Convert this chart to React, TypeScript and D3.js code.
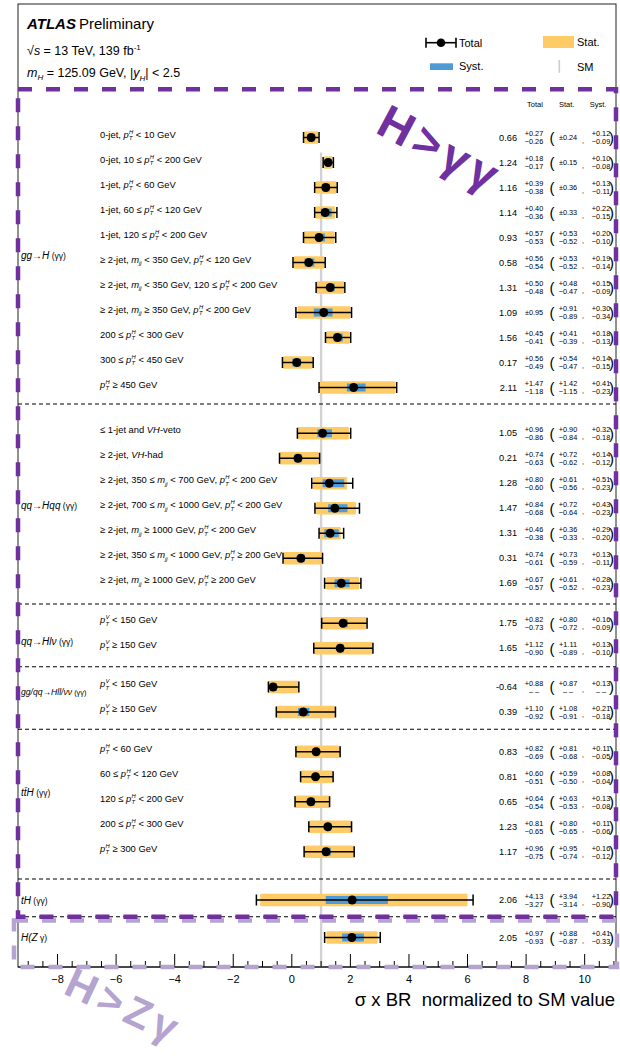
import React from 'react';
import * as d3 from 'd3';

// ---------------- data ----------------
const GROUP_MAIN = ['gg→H', 'qq→Hqq', 'qq→Hlν', 'gg/qq→Hll/νν', 'tt̄H', 'tH', 'H(Z'];
const GROUP_SUFFIX = [' (γγ)', ' (γγ)', ' (γγ)', ' (γγ)', ' (γγ)', ' (γγ)', ' γ)'];

const ROW_GROUP = [
  0, 0, 0, 0, 0, 0, 0, 0, 0, 0, 0,
  1, 1, 1, 1, 1, 1, 1,
  2, 2,
  3, 3,
  4, 4, 4, 4, 4,
  5,
  6,
];

const ROW_LABELS = [
  '0-jet, pTH < 10 GeV',
  '0-jet, 10 ≤ pTH < 200 GeV',
  '1-jet, pTH < 60 GeV',
  '1-jet, 60 ≤ pTH < 120 GeV',
  '1-jet, 120 ≤ pTH < 200 GeV',
  '≥ 2-jet, mjj < 350 GeV, pTH < 120 GeV',
  '≥ 2-jet, mjj < 350 GeV, 120 ≤ pTH < 200 GeV',
  '≥ 2-jet, mjj ≥ 350 GeV, pTH < 200 GeV',
  '200 ≤ pTH < 300 GeV',
  '300 ≤ pTH < 450 GeV',
  'pTH ≥ 450 GeV',
  '≤ 1-jet and VH-veto',
  '≥ 2-jet, VH-had',
  '≥ 2-jet, 350 ≤ mjj < 700 GeV, pTH < 200 GeV',
  '≥ 2-jet, 700 ≤ mjj < 1000 GeV, pTH < 200 GeV',
  '≥ 2-jet, mjj ≥ 1000 GeV, pTH < 200 GeV',
  '≥ 2-jet, 350 ≤ mjj < 1000 GeV, pTH ≥ 200 GeV',
  '≥ 2-jet, mjj ≥ 1000 GeV, pTH ≥ 200 GeV',
  'pTV < 150 GeV',
  'pTV ≥ 150 GeV',
  'pTV < 150 GeV',
  'pTV ≥ 150 GeV',
  'pTH < 60 GeV',
  '60 ≤ pTH < 120 GeV',
  '120 ≤ pTH < 200 GeV',
  '200 ≤ pTH < 300 GeV',
  'pTH ≥ 300 GeV',
  '',
  '',
];

const MU = [0.66, 1.24, 1.16, 1.14, 0.93, 0.58, 1.31, 1.09, 1.56, 0.17, 2.11,
  1.05, 0.21, 1.28, 1.47, 1.31, 0.31, 1.69,
  1.75, 1.65,
  -0.64, 0.39,
  0.83, 0.81, 0.65, 1.23, 1.17,
  2.06,
  2.05];

const TOT_UP = [0.27, 0.18, 0.39, 0.40, 0.57, 0.56, 0.50, 0.95, 0.45, 0.56, 1.47,
  0.96, 0.74, 0.80, 0.84, 0.46, 0.74, 0.67,
  0.82, 1.12,
  0.88, 1.10,
  0.82, 0.60, 0.64, 0.81, 0.96,
  4.13,
  0.97];
const TOT_DN = [0.26, 0.17, 0.38, 0.36, 0.53, 0.54, 0.48, 0.95, 0.41, 0.49, 1.18,
  0.86, 0.63, 0.60, 0.68, 0.38, 0.61, 0.57,
  0.73, 0.90,
  null, 0.92,
  0.69, 0.51, 0.54, 0.65, 0.75,
  3.27,
  0.93];
const STAT_UP = [0.24, 0.15, 0.36, 0.33, 0.53, 0.53, 0.48, 0.91, 0.41, 0.54, 1.42,
  0.90, 0.72, 0.61, 0.72, 0.36, 0.73, 0.61,
  0.80, 1.11,
  0.87, 1.08,
  0.81, 0.59, 0.63, 0.80, 0.95,
  3.94,
  0.88];
const STAT_DN = [0.24, 0.15, 0.36, 0.33, 0.52, 0.52, 0.47, 0.89, 0.39, 0.47, 1.15,
  0.84, 0.62, 0.56, 0.64, 0.33, 0.59, 0.52,
  0.72, 0.89,
  null, 0.91,
  0.68, 0.50, 0.53, 0.65, 0.74,
  3.14,
  0.87];
const SYST_UP = [0.12, 0.10, 0.13, 0.22, 0.20, 0.19, 0.15, 0.30, 0.18, 0.14, 0.41,
  0.32, 0.14, 0.51, 0.43, 0.29, 0.13, 0.28,
  0.16, 0.13,
  0.13, 0.21,
  0.11, 0.08, 0.13, 0.11, 0.16,
  1.22,
  0.41];
const SYST_DN = [0.09, 0.08, 0.11, 0.15, 0.10, 0.14, 0.09, 0.34, 0.13, 0.15, 0.23,
  0.18, 0.12, 0.23, 0.23, 0.20, 0.11, 0.23,
  0.09, 0.10,
  null, 0.18,
  0.05, 0.04, 0.08, 0.06, 0.12,
  0.90,
  0.33];
const UNDEFINED_LOW_DRAWN = 0.16;

const X_MAJOR = [-8, -6, -4, -2, 0, 2, 4, 6, 8, 10];

// ---------------- layout (row units) ----------------
const GROUP_START = [0, 11.83, 19.43, 21.98, 24.57, 30.5, 32.0];
const GROUP_LABEL_POS = [4.7, 14.7, 20.17, 22.17, 26.2, 30.5, 32.0];
const SEPARATORS = [10.66, 18.66, 21.17, 23.67, 29.66, 31.17];

const FONT = "'Liberation Sans', Arial, Helvetica, sans-serif";
const YELLOW = '#ffcb66';
const BLUE = '#4e9bd6';
const PURPLE = '#7030a0';
const LAVENDER = '#b4a4cf';

function labelSpans(s: string, fs: number) {
  const parts = s.split(/(pTH|pTV|mjj|VH)/).filter((p) => p !== '');
  const out: any[] = [];
  let off = 0;
  let pendDx = 0;
  const small = fs * 0.62;
  parts.forEach((p, i) => {
    if (p === 'pTH' || p === 'pTV') {
      const sup = p[2];
      out.push(<tspan key={i + 'a'} fontStyle="italic" dy={-off} dx={pendDx}>p</tspan>);
      off = 0; pendDx = 0;
      const upd = -fs * 0.4;
      out.push(<tspan key={i + 'b'} fontSize={small} fontStyle="italic" dx={0.4} dy={upd}>{sup}</tspan>);
      const w = small * (sup === 'H' ? 0.722 : 0.667);
      const dnd = fs * 0.28;
      out.push(<tspan key={i + 'c'} fontSize={small} fontStyle="italic" dx={-w} dy={-upd + dnd}>T</tspan>);
      off = dnd;
      pendDx = w - small * 0.611;
    } else if (p === 'mjj') {
      out.push(<tspan key={i + 'a'} fontStyle="italic" dy={-off} dx={pendDx}>m</tspan>);
      pendDx = 0;
      const dnd = fs * 0.28;
      out.push(<tspan key={i + 'b'} fontSize={small} fontStyle="italic" dy={dnd}>jj</tspan>);
      off = dnd;
    } else if (p === 'VH') {
      out.push(<tspan key={i} fontStyle="italic" dy={-off} dx={pendDx}>VH</tspan>);
      off = 0; pendDx = 0;
    } else {
      out.push(<tspan key={i} dy={-off} dx={pendDx}>{p}</tspan>);
      off = 0; pendDx = 0;
    }
  });
  return out;
}

const fmt = (v: number) => v.toFixed(2);

function ErrPair({ cx, cy, up, dn, fs }: { cx: number; cy: number; up: number; dn: number | null; fs: number }) {
  if (dn !== null && up === dn) {
    return (
      <text x={cx} y={cy} dy="0.35em" textAnchor="middle" fontSize={fs}>{'±' + fmt(up)}</text>
    );
  }
  return (
    <g>
      <text x={cx} y={cy - 3.6} dy="0.35em" textAnchor="middle" fontSize={fs}>{'+' + fmt(up)}</text>
      <text x={cx} y={cy + 4.4} dy="0.35em" textAnchor="middle" fontSize={fs}>
        {dn === null ? '– –' : '−' + fmt(dn)}
      </text>
    </g>
  );
}

export default function App() {
  const x = d3.scaleLinear().domain([-9.35, 11.07]).range([18, 616]);
  const y = d3.scaleLinear().domain([0, 1]).range([137.5, 162.5]);
  const xMinor = d3.range(-9, 11.01, 0.5).filter((v) => !X_MAJOR.includes(v));

  const withinIdx: number[] = [];
  const counters: Record<number, number> = {};
  ROW_GROUP.forEach((g) => {
    counters[g] = counters[g] === undefined ? 0 : counters[g] + 1;
    withinIdx.push(counters[g]);
  });
  const rowY = ROW_GROUP.map((g, i) => y(GROUP_START[g] + withinIdx[i]));

  const left = x.range()[0];
  const right = x.range()[1];
  const axisY = 967;
  const frameTop = 4;
  const purpleTop = 89.3;
  const purpleBottom = y(SEPARATORS[5]);

  return (
    <svg width={620} height={1060} style={{ position: 'absolute', left: 0, top: 0 }} fontFamily={FONT}>
      <rect x={0} y={0} width={620} height={1060} fill="#fff" />
      {/* frame */}
      <rect x={left} y={frameTop} width={right - left} height={axisY - frameTop} fill="none" stroke="#222" strokeWidth={1} />

      {/* header */}
      <text x={27} y={29} fontSize={15}>
        <tspan fontWeight="bold" fontStyle="italic">ATLAS</tspan>
        <tspan dx={3}>Preliminary</tspan>
      </text>
      <text x={27} y={55} fontSize={12.5}>
        <tspan>√</tspan><tspan fontStyle="italic">s</tspan>
        <tspan> = 13 TeV, 139 fb</tspan>
        <tspan fontSize={8} dy={-5}>-1</tspan>
      </text>
      <text x={27} y={77} fontSize={12.5}>
        <tspan fontStyle="italic">m</tspan>
        <tspan fontSize={8} fontStyle="italic" dy={3}>H</tspan>
        <tspan dy={-3}> = 125.09 GeV, |</tspan>
        <tspan fontStyle="italic">y</tspan>
        <tspan fontSize={8} fontStyle="italic" dy={4}>H</tspan>
        <tspan dy={-4}>| &lt; 2.5</tspan>
      </text>

      {/* legend */}
      <g>
        <line x1={426} x2={456} y1={42.7} y2={42.7} stroke="#000" strokeWidth={1.6} />
        <line x1={426} x2={426} y1={37.7} y2={47.7} stroke="#000" strokeWidth={1.6} />
        <line x1={456} x2={456} y1={37.7} y2={47.7} stroke="#000" strokeWidth={1.6} />
        <circle cx={441} cy={42.7} r={4.3} fill="#000" />
        <text x={459} y={42.7} dy="0.35em" fontSize={11}>Total</text>
        <rect x={543} y={36} width={31} height={12} fill={YELLOW} />
        <text x={577} y={42.5} dy="0.35em" fontSize={11}>Stat.</text>
        <rect x={430} y={63.3} width={23} height={6.7} fill={BLUE} />
        <text x={459} y={66.5} dy="0.35em" fontSize={11}>Syst.</text>
        <line x1={559.3} x2={559.3} y1={60} y2={72.7} stroke="#cccccc" strokeWidth={1.6} />
        <text x={577} y={67} dy="0.35em" fontSize={11}>SM</text>
      </g>

      {/* column header */}
      <g fontSize={7.5} textAnchor="middle">
        <text x={535} y={104} dy="0.35em">Total</text>
        <text x={566.7} y={104} dy="0.35em">Stat.</text>
        <text x={598} y={104} dy="0.35em">Syst.</text>
      </g>

      {/* SM line */}
      <line x1={x(1)} x2={x(1)} y1={y(0.6)} y2={axisY} stroke="#d2d2d2" strokeWidth={2.4} />

      {/* separators */}
      {SEPARATORS.map((s, i) => (
        <line key={i} x1={left} x2={right} y1={y(s)} y2={y(s)} stroke="#000" strokeWidth={1.2} strokeDasharray="4 3" />
      ))}

      {/* group labels */}
      {GROUP_MAIN.map((g, i) => (
        <text key={i} x={21} y={y(GROUP_LABEL_POS[i])} dy="0.35em" fontSize={i === 3 ? 8.6 : 10}>
          <tspan fontStyle="italic">{g}</tspan>
          <tspan fontSize={i === 3 ? 7.4 : 8.5}>{GROUP_SUFFIX[i]}</tspan>
        </text>
      ))}

      {/* row labels */}
      {ROW_LABELS.map((l, i) => l ? (
        <text key={i} x={100} y={rowY[i]} dy="0.35em" fontSize={9.4}>{labelSpans(l, 9.4)}</text>
      ) : null)}

      {/* markers */}
      {MU.map((m, i) => {
        const cy = rowY[i];
        const tDn = TOT_DN[i] === null ? UNDEFINED_LOW_DRAWN : (TOT_DN[i] as number);
        const sDn = STAT_DN[i] === null ? UNDEFINED_LOW_DRAWN : (STAT_DN[i] as number);
        const yDn = SYST_DN[i] === null ? 0 : (SYST_DN[i] as number);
        const x0 = x(m - tDn), x1 = x(m + TOT_UP[i]);
        return (
          <g key={i}>
            <rect x={x(m - sDn)} y={cy - 6.3} width={x(m + STAT_UP[i]) - x(m - sDn)} height={12.6} fill={YELLOW} rx={1} />
            <rect x={x(m - yDn)} y={cy - 4} width={x(m + SYST_UP[i]) - x(m - yDn)} height={8} fill={BLUE} />
            <line x1={x0} x2={x1} y1={cy} y2={cy} stroke="#000" strokeWidth={1.5} />
            <line x1={x0} x2={x0} y1={cy - 5.5} y2={cy + 5.5} stroke="#000" strokeWidth={1.5} />
            <line x1={x1} x2={x1} y1={cy - 5.5} y2={cy + 5.5} stroke="#000" strokeWidth={1.5} />
            <circle cx={x(m)} cy={cy} r={4.5} fill="#000" />
          </g>
        );
      })}

      {/* numbers */}
      {MU.map((m, i) => {
        const cy = rowY[i];
        return (
          <g key={i}>
            <text x={517} y={cy} dy="0.35em" textAnchor="end" fontSize={9.2}>{m.toFixed(2)}</text>
            <ErrPair cx={534} cy={cy} up={TOT_UP[i]} dn={TOT_DN[i]} fs={7.3} />
            <text x={552} y={cy} dy="0.35em" textAnchor="middle" fontSize={15} fontWeight="300">(</text>
            <ErrPair cx={568} cy={cy} up={STAT_UP[i]} dn={STAT_DN[i]} fs={7.3} />
            <text x={583} y={cy + 3} dy="0.35em" textAnchor="middle" fontSize={7}>,</text>
            <ErrPair cx={601} cy={cy} up={SYST_UP[i]} dn={SYST_DN[i]} fs={7.3} />
            <text x={611.5} y={cy} dy="0.35em" textAnchor="middle" fontSize={15} fontWeight="300">)</text>
          </g>
        );
      })}

      {/* x axis */}
      <line x1={left} x2={right} y1={axisY} y2={axisY} stroke="#000" strokeWidth={1} />
      {X_MAJOR.map((t) => (
        <g key={t}>
          <line x1={x(t)} x2={x(t)} y1={axisY} y2={axisY - 13} stroke="#000" strokeWidth={1} />
          <text x={x(t)} y={979} dy="0.35em" textAnchor="middle" fontSize={11}>{t < 0 ? '−' + Math.abs(t) : String(t)}</text>
        </g>
      ))}
      {xMinor.map((t) => (
        <line key={t} x1={x(t)} x2={x(t)} y1={axisY} y2={axisY - 6} stroke="#000" strokeWidth={1} />
      ))}
      <text x={615} y={1000} dy="0.35em" textAnchor="end" fontSize={18.5}>{'σ x BR\u00A0\u00A0normalized to SM value'}</text>

      {/* highlight boxes */}
      <rect x={14} y={920.5} width={603} height={axisY - 920.5} fill="none" stroke={LAVENDER} strokeWidth={4.5} strokeDasharray="14 14" />
      <rect x={left} y={purpleTop} width={right - left} height={purpleBottom - purpleTop} fill="none" stroke={PURPLE} strokeWidth={4.5} strokeDasharray="14 14" />

      <text transform="translate(374,132) rotate(28)" fontSize={47} fontWeight="bold" fill={PURPLE} letterSpacing={5}>H&gt;γγ</text>
      <text transform="translate(62,993) rotate(25)" fontSize={42} fontWeight="bold" fill={LAVENDER} letterSpacing={5}>H&gt;Zγ</text>
    </svg>
  );
}
